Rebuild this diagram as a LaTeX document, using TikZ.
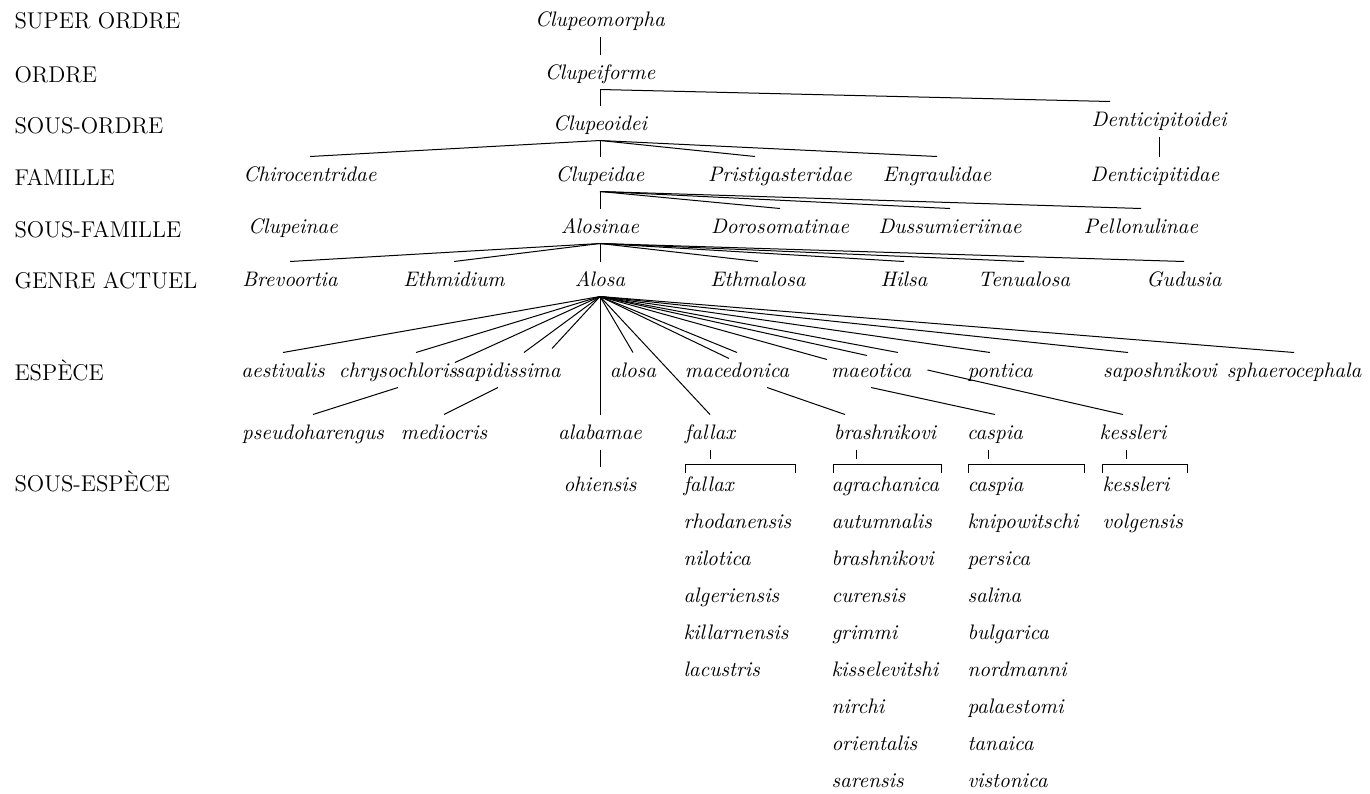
\documentclass[tikz,border=0pt]{standalone}
\begin{document}
\begin{tikzpicture}
  [x=0.5pt,y=-0.5pt,line width=0.5pt,
   lbl/.style={anchor=base west,inner sep=0pt,font=\fontsize{11.4}{13}\selectfont},
   tx/.style={anchor=base,inner xsep=0pt,inner ysep=5pt,text height=7pt,text depth=0pt,
     font=\fontsize{10.5}{12}\selectfont\itshape}]
  \useasboundingbox (0,0) rectangle (1370,793);
  % rank labels
  \node[lbl] (l1) at (14,28)  {SUPER ORDRE};
  \node[lbl] (l2) at (14,82)  {ORDRE};
  \node[lbl] (l3) at (14,133) {SOUS-ORDRE};
  \node[lbl] (l4) at (14,185) {FAMILLE};
  \node[lbl] (l5) at (14,237) {SOUS-FAMILLE};
  \node[lbl] (l6) at (14,288) {GENRE ACTUEL};
  \node[lbl] (l7) at (14,380) {ESPÈCE};
  \node[lbl] (l8) at (14,491) {SOUS-ESPÈCE};

  \node[tx] (cmorpha) at (600,26)  {Clupeomorpha};
  \node[tx] (cforme)  at (600,79)  {Clupeiforme};
  \node[tx] (coidei)  at (600,130) {Clupeoidei};
  \node[tx] (dentoid) at (1159,126) {Denticipitoidei};

  \node[tx] (chiro)  at (310,181)  {Chirocentridae};
  \node[tx] (cidae)  at (600,181)  {Clupeidae};
  \node[tx] (pristi) at (780,181)  {Pristigasteridae};
  \node[tx] (engra)  at (937,181)  {Engraulidae};
  \node[tx] (dentid) at (1155,181) {Denticipitidae};

  \node[tx] (clupnae) at (293,233)  {Clupeinae};
  \node[tx] (alosnae) at (600,233)  {Alosinae};
  \node[tx] (doros)   at (780,233)  {Dorosomatinae};
  \node[tx] (dussum)  at (950,233)  {Dussumieriinae};
  \node[tx] (pellon)  at (1141,233) {Pellonulinae};

  \node[tx] (brev)   at (290,286)  {Brevoortia};
  \node[tx] (ethmid) at (454,286)  {Ethmidium};
  \node[tx] (alosaG) at (600,286)  {Alosa};
  \node[tx] (ethmal) at (758,286)  {Ethmalosa};
  \node[tx] (hilsa)  at (904,286)  {Hilsa};
  \node[tx] (tenua)  at (1024,286) {Tenualosa};
  \node[tx] (gudus)  at (1184,286) {Gudusia};

  \node[tx] (aest)    at (283,377)  {aestivalis};
  \node[tx] (chrys)   at (398,377)  {chrysochloris};
  \node[tx] (sapid)   at (508,377)  {sapidissima};
  \node[tx] (alosaS)  at (633,377)  {alosa};
  \node[tx] (maced)   at (737,377)  {macedonica};
  \node[tx] (maeot)   at (871,377)  {maeotica};
  \node[tx] (pontica) at (1000,377) {pontica};
  \node[tx] (saposh)  at (1160,377) {saposhnikovi};
  \node[tx] (sphaero) at (1294,377) {sphaerocephala};

  \node[tx] (pseudo)   at (313,439)  {pseudoharengus};
  \node[tx] (medio)    at (444,439)  {mediocris};
  \node[tx] (alabamae) at (600,439)  {alabamae};
  \node[tx] (fallaxS)  at (710,439)  {fallax};
  \node[tx] (brashS)   at (885,439)  {brashnikovi};
  \node[tx] (caspiaS)  at (995,439)  {caspia};
  \node[tx] (kessS)    at (1133,439) {kessleri};

  % sub-species
  \node[tx] (ohien) at (600,491) {ohiensis};
  \foreach \n [count=\i from 0] in {fallax,rhodanensis,nilotica,algeriensis,killarnensis,lacustris}
    \node[tx,anchor=base west] (fa\i) at (683,{491+37.1*\i}) {\n};
  \foreach \n [count=\i from 0] in {agrachanica,autumnalis,brashnikovi,curensis,grimmi,kisselevitshi,nirchi,orientalis,sarensis}
    \node[tx,anchor=base west] (br\i) at (831,{491+37.1*\i}) {\n};
  \foreach \n [count=\i from 0] in {caspia,knipowitschi,persica,salina,bulgarica,nordmanni,palaestomi,tanaica,vistonica}
    \node[tx,anchor=base west] (ca\i) at (967,{491+37.1*\i}) {\n};
  \foreach \n [count=\i from 0] in {kessleri,volgensis}
    \node[tx,anchor=base west] (ke\i) at (1102,{491+37.1*\i}) {\n};

  \foreach \from/\to in {cmorpha/cforme,cforme/coidei,coidei/cidae,cidae/alosnae,alosnae/alosaG,
    alosaG/alabamae,alabamae/ohien,coidei/chiro,coidei/engra,cidae/doros,cidae/dussum,cidae/pellon,
    alosnae/brev,alosnae/ethmid,alosnae/ethmal,alosnae/hilsa,alosnae/tenua,alosnae/gudus,
    alosaG/aest,alosaG/alosaS,alosaG/fallaxS,alosaG/maced,alosaG/sphaero,chrys/pseudo,maeot/caspiaS}
    \draw (\from.south) -- (\to.north);
  \draw (cforme.south) -- ([xshift=-24.5pt]dentoid.north);
  \draw (coidei.south) -- ([xshift=-12.5pt]pristi.north);
  \draw (dentoid.south) -- (dentoid.south |- dentid.north);
  \draw (alosaG.south) -- ([xshift=9pt]chrys.north);
  \draw (alosaG.south) -- ([yshift=-5pt]sapid.north west);
  \draw (alosaG.south) -- ([xshift=8pt]sapid.north);
  \draw (alosaG.south) -- ([xshift=22pt,yshift=2pt]sapid.north);
  \draw (alosaG.south) -- ([xshift=-4pt,yshift=-3pt]maced.north);
  \draw (alosaG.south) -- ([xshift=-22pt,yshift=-3.5pt]maeot.north);
  \draw (alosaG.south) -- ([xshift=-2pt,yshift=-1.5pt]maeot.north);
  \draw (alosaG.south) -- ([xshift=13.5pt]maeot.north);
  \draw (alosaG.south) -- ([xshift=-5pt]pontica.north);
  \draw (alosaG.south) -- ([xshift=-16pt]saposh.north);
  \draw ([xshift=-5pt]sapid.south) -- (medio.north);
  \draw ([xshift=15pt]maced.south) -- ([xshift=-20pt]brashS.north);
  \draw ([xshift=8pt]maeot.east) -- ([xshift=-5pt]kessS.north);

  % brackets
  \draw (fallaxS.south) -- ++(0,9);
  \draw ([xshift=-14.5pt]brashS.south) -- ++(0,9);
  \draw ([xshift=-3.5pt]caspiaS.south) -- ++(0,9);
  \draw ([xshift=-3.5pt]kessS.south) -- ++(0,9);
  \foreach \l/\r in {685/795,833/941,968/1084,1102/1187}
    \draw (\l,473) |- (\r,464) -- (\r,473);
\end{tikzpicture}
\end{document}
